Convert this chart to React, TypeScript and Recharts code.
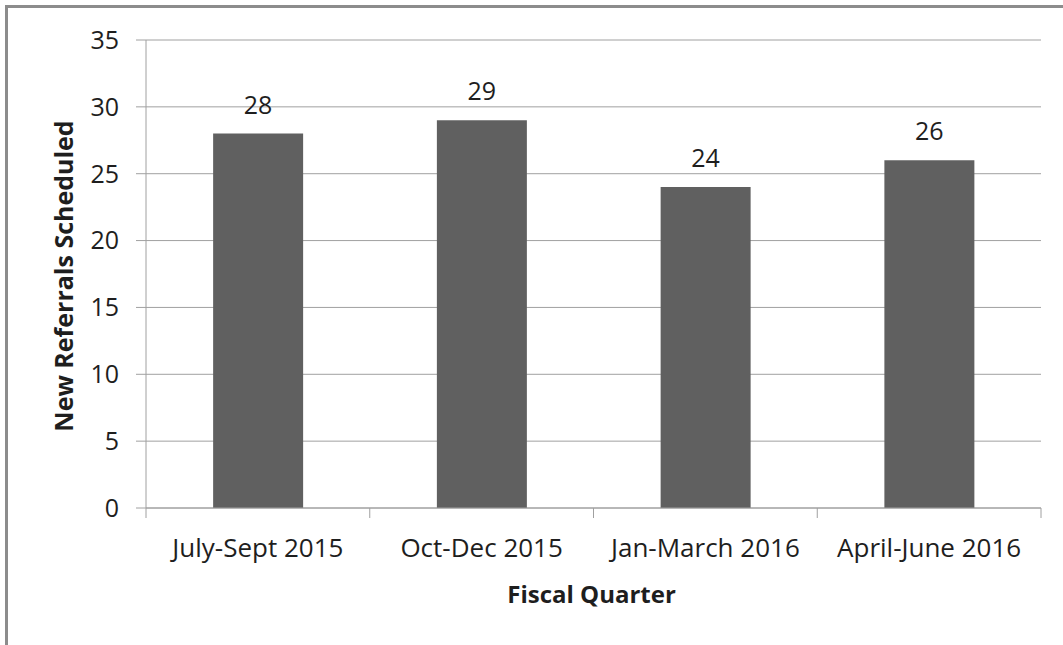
import React from "react";
import { BarChart, Bar, XAxis, YAxis, CartesianGrid, LabelList } from "recharts";

const categories = ["July-Sept 2015", "Oct-Dec 2015", "Jan-March 2016", "April-June 2016"];
const referrals = [28, 29, 24, 26];
const yTicks = [0, 5, 10, 15, 20, 25, 30, 35];
const yTitle = "New Referrals Scheduled";
const xTitle = "Fiscal Quarter";

const data = categories.map((c, i) => ({ quarter: c, value: referrals[i] }));

const W = 1063;
const H = 645;
const PLOT_LEFT = 146;
const PLOT_RIGHT = 1041;
const PLOT_TOP = 40;
const PLOT_BOTTOM = 508;
const Y_AXIS_W = 60;
const X_AXIS_H = 40;
const BAND = (PLOT_RIGHT - PLOT_LEFT) / categories.length;
const FONT = "'Open Sans', sans-serif";
const TEXT = "#1e1e1e";
const GRID = "#a0a0a0";

const XTick = (props: any) => {
  const { x, y, payload, index } = props;
  const last = index === categories.length - 1;
  return (
    <g>
      <line x1={x - BAND / 2} x2={x - BAND / 2} y1={y} y2={y + 10} stroke={GRID} />
      {last && <line x1={x + BAND / 2} x2={x + BAND / 2} y1={y} y2={y + 10} stroke={GRID} />}
      <text x={x} y={y + 49} textAnchor="middle" fill={TEXT} fontSize={26} fontFamily={FONT}>
        {payload.value}
      </text>
    </g>
  );
};

const XTitle = (props: any) => {
  const vb = props.viewBox;
  return (
    <text x={vb.x + vb.width / 2 - 2} y={vb.y + 95} textAnchor="middle" fill={TEXT} fontSize={24} fontWeight="bold" fontFamily={FONT}>
      {xTitle}
    </text>
  );
};

const YTitle = (props: any) => {
  const vb = props.viewBox;
  const cx = 73;
  const cy = vb.y + vb.height / 2 + 2;
  return (
    <text x={cx} y={cy} transform={`rotate(-90, ${cx}, ${cy})`} textAnchor="middle" fill={TEXT} fontSize={25} fontWeight="bold" fontFamily={FONT}>
      {yTitle}
    </text>
  );
};

export default function App() {
  return (
    <div style={{ position: "absolute", left: 0, top: 0, width: W, height: H, background: "#fff", overflow: "hidden" }}>
      <div
        style={{
          position: "absolute",
          left: 5,
          top: 5,
          width: W,
          height: 637,
          borderLeft: "3px solid #8c8c8c",
          borderTop: "3px solid #8c8c8c",
          borderBottom: "1px solid #ececec",
        }}
      />
      <div style={{ position: "absolute", left: 0, top: 0 }}>
        <BarChart
          width={W}
          height={H}
          data={data}
          barCategoryGap="30%"
          margin={{ left: PLOT_LEFT - Y_AXIS_W, right: W - PLOT_RIGHT, top: PLOT_TOP, bottom: H - PLOT_BOTTOM - X_AXIS_H }}
        >
          <CartesianGrid vertical={false} stroke={GRID} strokeDasharray="" />
          <XAxis
            dataKey="quarter"
            interval={0}
            height={X_AXIS_H}
            stroke={GRID}
            tickLine={false}
            tickSize={0}
            tickMargin={0}
            tick={<XTick />}
            label={<XTitle />}
          />
          <YAxis
            width={Y_AXIS_W}
            domain={[0, 35]}
            ticks={yTicks}
            interval={0}
            stroke={GRID}
            tickSize={10}
            tickMargin={17}
            tick={{ fill: TEXT, fontSize: 25, fontFamily: FONT }}
            label={<YTitle />}
          />
          <Bar dataKey="value" fill="#606060" isAnimationActive={false}>
            <LabelList dataKey="value" position="top" offset={20} fill={TEXT} fontSize={25} fontFamily={FONT} />
          </Bar>
        </BarChart>
      </div>
    </div>
  );
}
